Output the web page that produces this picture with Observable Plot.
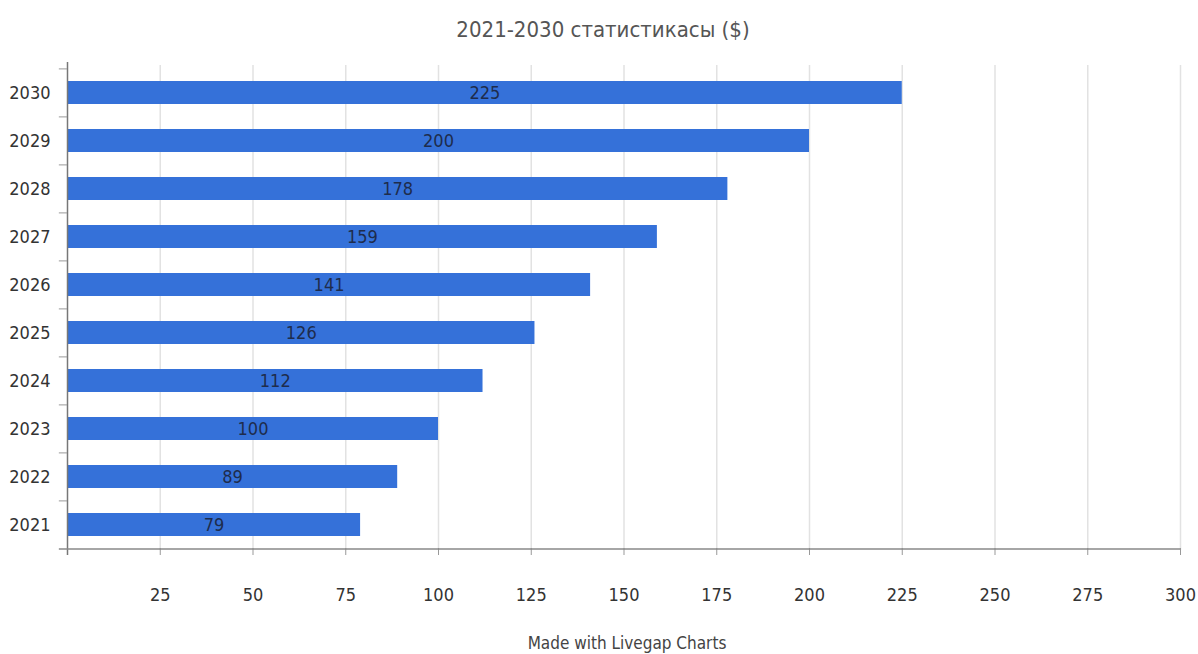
<!DOCTYPE html>
<html><head><meta charset="utf-8">
<script src="https://cdn.jsdelivr.net/npm/d3@7"></script>
<script src="https://cdn.jsdelivr.net/npm/@observablehq/plot@0.6"></script>
<style>
html,body{margin:0;padding:0;background:#fff;}
body{width:1198px;height:654px;overflow:hidden;font-family:"Liberation Sans Narrow","DejaVu Sans Condensed",sans-serif;}
#title{height:50px;line-height:60px;text-align:center;font-size:22px;color:#555;padding-left:8px;}
#caption{height:34px;line-height:46px;text-align:center;font-size:17px;color:#444;padding-left:56px;}
svg{display:block;}
</style></head>
<body>
<div id="title">2021-2030 статистикасы ($)</div>
<div id="chart"></div>
<div id="caption">Made with Livegap Charts</div>
<script>
const years = ["2021","2022","2023","2024","2025","2026","2027","2028","2029","2030"];
const values = [79, 89, 100, 112, 126, 141, 159, 178, 200, 225];
const xTicks = [25, 50, 75, 100, 125, 150, 175, 200, 225, 250, 275, 300];

const data = years.map((y, i) => ({year: y, value: values[i]}));
const yDomain = years.slice().reverse();
const step = 48.2;

const chart = Plot.plot({
  width: 1198,
  height: 570,
  marginLeft: 67,
  marginRight: 18,
  marginTop: 18,
  marginBottom: 70,
  style: {fontFamily: "'Liberation Sans Narrow','DejaVu Sans Condensed',sans-serif", fontSize: "18px", color: "#333", background: "#fff"},
  x: {domain: [0, 300], axis: null},
  y: {domain: yDomain, paddingInner: 0.52, paddingOuter: 0.26, axis: null},
  marks: [
    Plot.ruleX(xTicks, {stroke: "#e2e2e2", strokeWidth: 1.5, insetTop: -3}),
    Plot.ruleX(xTicks.concat([0]), {stroke: "#999", strokeWidth: 1, insetTop: 480, insetBottom: -5}),
    Plot.barX(data, {x: "value", y: "year", fill: "#3571d9"}),
    Plot.text(data, {x: d => d.value / 2, y: "year", text: d => String(d.value), fill: "#1e2c4c", fontSize: 18}),
    Plot.ruleX([0], {stroke: "#777", strokeWidth: 1.5, insetTop: -6, insetBottom: -5}),
    Plot.ruleY(yDomain, {y: d => d, x1: -2.2, x2: 0, dy: -step / 2, stroke: "#999"}),
    Plot.ruleY([years[0]], {y: d => d, x1: -2.2, x2: 300, dy: step / 2, stroke: "#888", strokeWidth: 1.5}),
    Plot.axisY({tickSize: 0, tickPadding: 17, fontSize: 18, fill: "#333", label: null}),
    Plot.axisX(xTicks, {tickSize: 0, tickPadding: 38, fontSize: 18, fill: "#333", label: null})
  ]
});
document.getElementById("chart").appendChild(chart);
</script>
</body></html>
